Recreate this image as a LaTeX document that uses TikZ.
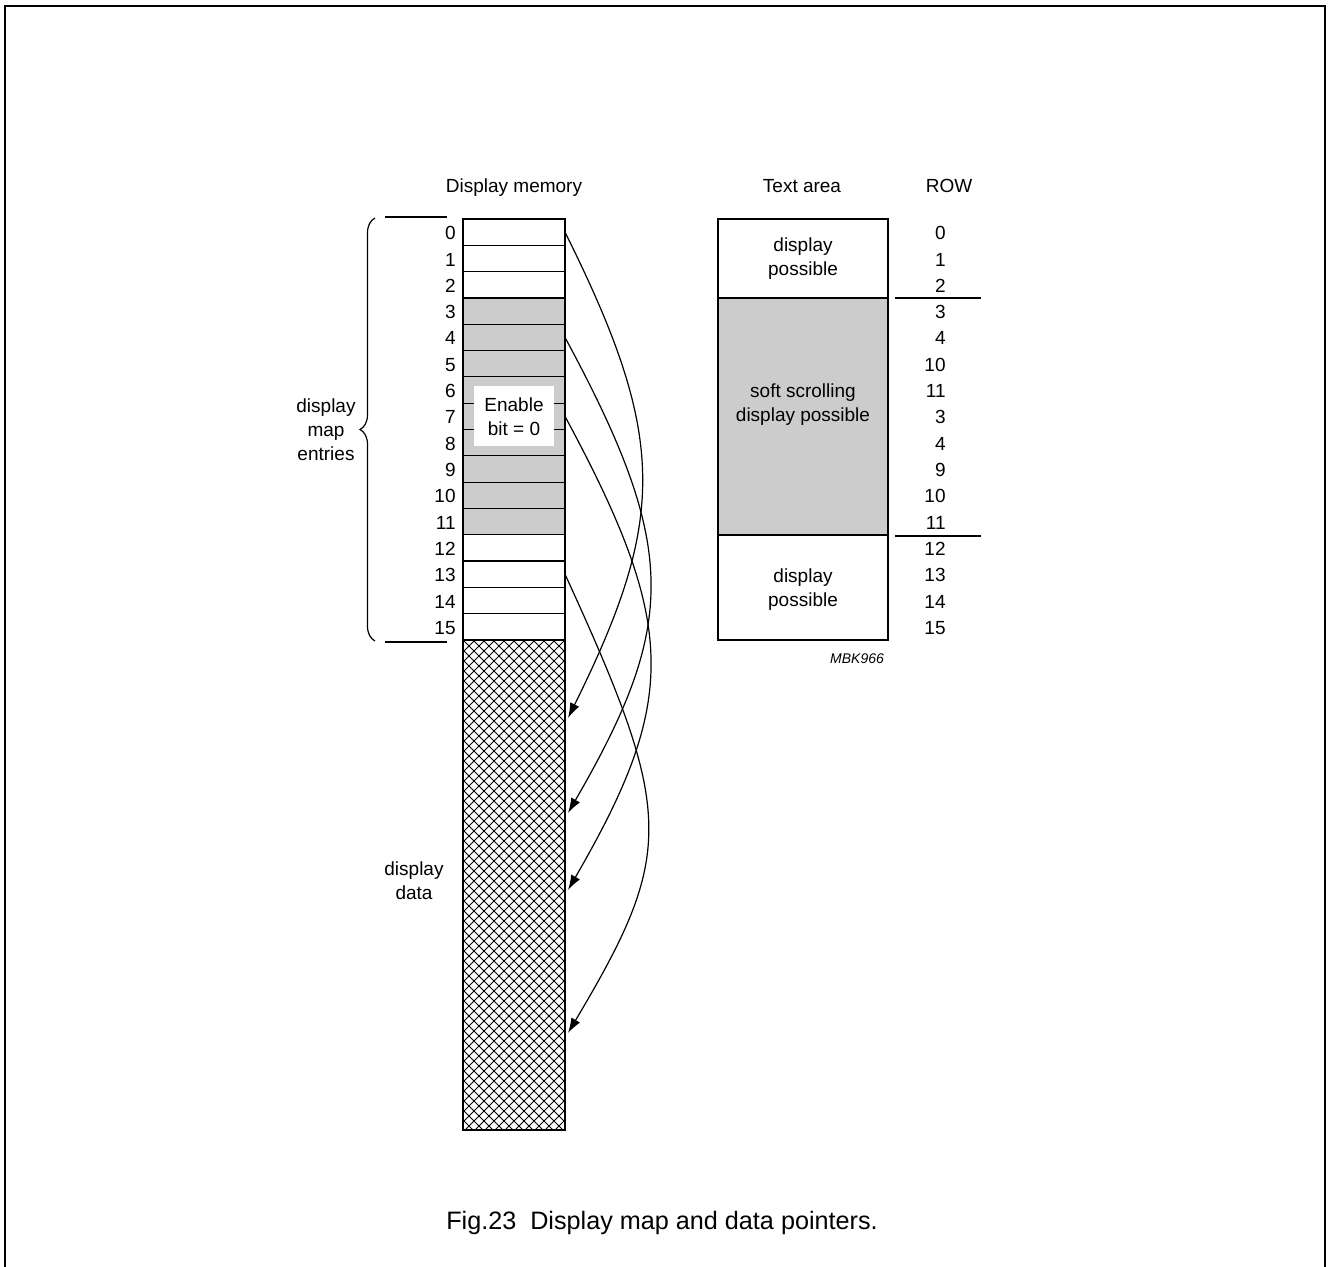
\documentclass[tikz,border=0pt]{standalone}
\usepackage{fontspec}
\setmainfont{Liberation Sans}
\usetikzlibrary{arrows.meta,decorations.pathreplacing}
\definecolor{shade}{HTML}{CCCCCC}
\begin{document}
\begin{tikzpicture}[x=0.5pt,y=-0.5pt,
  lab/.style={font=\fontsize{9.5pt}{12pt}\selectfont, inner sep=0pt, align=center},
  cell/.style={draw, line width=0.6pt, minimum width=51pt, minimum height=13.156pt, inner sep=0pt, outer sep=0pt},
  tbox/.style={draw, line width=0.6pt, minimum width=85pt, inner sep=0pt, outer sep=0pt},
  thin/.style={line width=0.6pt},
  hatch/.style={line width=0.4pt},
  ptr/.style={line width=0.6pt, -{Latex[length=7.5pt,width=5pt]}}
]
\useasboundingbox (0,0) rectangle (1328,1267);
% frame
\draw[line width=1pt] (5,1280) -- (5,6) -- (1325,6) -- (1325,1280);

% headings
\node[lab, anchor=base] (hmem) at (514,193) {Display memory};
\node[lab, anchor=base] (htxt) at (802,193) {Text area};
\node[lab, anchor=base] (hrow) at (949,193) {ROW};

% display memory cells
\foreach \i/\c in {0/white,1/white,2/white,3/shade,4/shade,5/shade,6/shade,7/shade,8/shade,9/shade,10/shade,11/shade,12/white,13/white,14/white,15/white}{
  \node[cell, fill=\c] (r\i) at (514,{219+26.3125*(\i+0.5)}) {};
  \node[lab, anchor=east] (n\i) at (456,{219+26.3125*(\i+0.5)+1}) {\i};
}

% enable bit box
\node[fill=white, minimum width=40pt, minimum height=30pt, inner sep=0pt] (en) at (514,416) {};
\node[lab] (entext) at (514,417) {Enable\\bit = 0};

% display data (hatched)
\begin{scope}
  \clip (463,640) rectangle (565,1130);
  \foreach \k in {-50,...,11}{
    \draw[hatch] ({463+10*\k},640) -- ++(490,490);
    \draw[hatch] ({565-10*\k},640) -- ++(-490,490);
  }
\end{scope}
\node[draw, thin, minimum width=51pt, minimum height=245pt, inner sep=0pt, outer sep=0pt] (data) at (514,885) {};

% left marks and brace
\coordinate (bt) at (375,218);
\coordinate (bb) at (375,641);
\draw[thin] (385,217) -- (447,217);
\draw[thin] (385,642) -- (447,642);
\draw[thin, decorate, decoration={brace, amplitude=7.5pt}] (bb) -- (bt);
\node[lab] (dme) at (326,430) {display\\map\\entries};
\node[lab] (dd) at (414,881) {display\\data};

% text area
\node[tbox, minimum height=39.5pt, fill=white] (ta1) at (803,258.5) {};
\node[tbox, minimum height=118.5pt, fill=shade] (ta2) at (803,416.5) {};
\node[tbox, minimum height=52.5pt, fill=white] (ta3) at (803,587.5) {};
\node[lab] (t1) at (803,259) {display\\possible};
\node[lab] (t2) at (803,405) {soft scrolling\\display possible};
\node[lab] (t3) at (803,590) {display\\possible};

% ROW numbers
\foreach \v [count=\j from 0] in {0,1,2,3,4,10,11,3,4,9,10,11,12,13,14,15}{
  \node[lab, anchor=east] (w\j) at (946,{219+26.3125*(\j+0.5)+1}) {\v};
}
\draw[thin] (895,298) -- (981,298);
\draw[thin] (895,536) -- (981,536);
\node[font=\itshape\fontsize{7pt}{8pt}\selectfont, inner sep=0pt] (mbk) at (857,659) {MBK966};

% pointers
\coordinate (a1) at (568,718);
\coordinate (a2) at (568,813);
\coordinate (a3) at (568,890);
\coordinate (a4) at (568,1033);
\draw[ptr] (r0.east) .. controls (667,437) and (667,518) .. (a1);
\draw[ptr] (r4.east) .. controls (678,547) and (678,623) .. (a2);
\draw[ptr] (r7.east) .. controls (678,626) and (678,700) .. (a3);
\draw[ptr] (r13.east) .. controls (675,814) and (675,853) .. (a4);

% caption
\node[font=\fontsize{12.6pt}{15pt}\selectfont, inner sep=0pt] (cap) at (662,1223) {Fig.23\ \ Display map and data pointers.};
\end{tikzpicture}
\end{document}
